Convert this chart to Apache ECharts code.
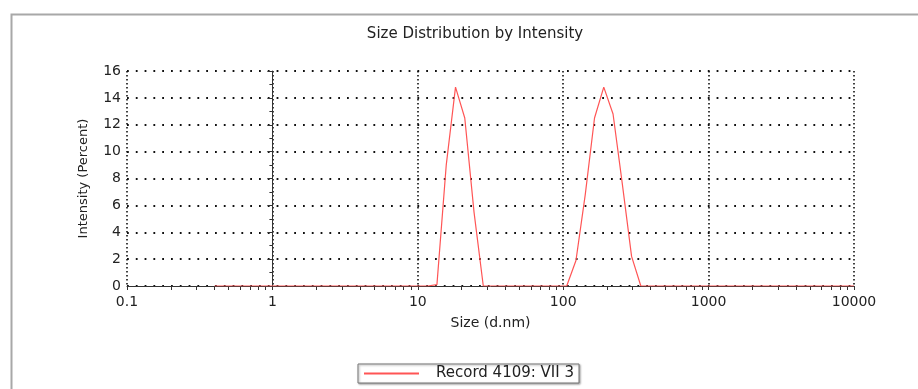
<!DOCTYPE html>
<html>
<head>
<meta charset="utf-8">
<script src="https://cdn.jsdelivr.net/npm/echarts@6/dist/echarts.min.js"></script>
<style>
  html, body { margin: 0; padding: 0; background: #fff; }
  #chart { width: 918px; height: 389px; }
</style>
</head>
<body>
<div id="chart"></div>
<script>
// size classes (d.nm), log spaced 0.4 .. 10000
const sizes = [
  0.4, 0.4632, 0.5365, 0.6213, 0.7195, 0.8332, 0.9649, 1.117, 1.294, 1.499,
  1.736, 2.010, 2.328, 2.696, 3.122, 3.615, 4.187, 4.849, 5.615, 6.503,
  7.531, 8.721, 10.10, 11.70, 13.54, 15.69, 18.17, 21.04, 24.36, 28.21,
  32.67, 37.84, 43.82, 50.75, 58.77, 68.06, 78.82, 91.28, 105.7, 122.4,
  141.8, 164.2, 190.1, 220.2, 255.0, 295.3, 342.0, 396.1, 458.7, 531.2,
  615.1, 712.4, 825.0, 955.4, 1106, 1281, 1484, 1718, 1990, 2305,
  2669, 3091, 3580, 4145, 4801, 5560, 6439, 7456, 8635, 10000
];
// intensity (percent) per size class
const intensity = [
  0, 0, 0, 0, 0, 0, 0, 0, 0, 0,
  0, 0, 0, 0, 0, 0, 0, 0, 0, 0,
  0, 0, 0, 0, 0.1, 9.0, 14.8, 12.5, 5.5, 0,
  0, 0, 0, 0, 0, 0, 0, 0, 0, 1.9,
  6.8, 12.5, 14.8, 12.8, 7.6, 2.2, 0, 0, 0, 0,
  0, 0, 0, 0, 0, 0, 0, 0, 0, 0,
  0, 0, 0, 0, 0, 0, 0, 0, 0, 0
];
const decades = [0.1, 1, 10, 100, 1000, 10000];
const minorMultipliers = [2, 3, 4, 5, 6, 7, 8, 9];
const seriesName = 'Record 4109: VII 3';

const font = 'DejaVu Sans';
const ink = '#222';

const lg = v => Math.log10(v);
// minor ticks at 2..9 of every decade (drawn on a second, label-less axis)
const minorTicks = [];
decades.slice(0, -1).forEach(d => {
  minorMultipliers.forEach(m => minorTicks.push(lg(d * m)));
});

const chart = echarts.init(document.getElementById('chart'));
chart.setOption({
  animation: false,
  backgroundColor: '#fff',
  graphic: [{
    type: 'rect',
    left: 9, top: 12,
    shape: { width: 1000, height: 500 },
    style: { fill: 'none', stroke: '#a8a8a8', lineWidth: 2 },
    silent: true
  }],
  title: {
    text: 'Size Distribution by Intensity',
    left: 470, top: 22, textAlign: 'center',
    textStyle: { fontFamily: font, fontSize: 15, fontWeight: 'normal', color: ink }
  },
  legend: {
    left: 358, top: 364,
    padding: [2, 5, 2, 5],
    itemWidth: 55, itemHeight: 12,
    itemStyle: { opacity: 0 },
    borderColor: '#777', borderWidth: 1,
    shadowColor: 'rgba(0,0,0,0.35)', shadowBlur: 2, shadowOffsetX: 1, shadowOffsetY: 1,
    backgroundColor: '#fff',
    textStyle: { fontFamily: font, fontSize: 15, color: ink, padding: [0, 0, 0, 12] },
    data: [seriesName]
  },
  grid: { left: 127, right: 64, top: 71, bottom: 103 },
  xAxis: [{
    type: 'value',
    min: -1, max: 4, interval: 1,
    name: 'Size (d.nm)',
    nameLocation: 'middle', nameGap: 30,
    nameTextStyle: { fontFamily: font, fontSize: 14, color: ink },
    axisLine: { lineStyle: { color: '#333', width: 1 } },
    axisTick: { show: true, length: 4, lineStyle: { color: '#333' } },
    axisLabel: {
      fontFamily: font, fontSize: 14, color: ink, margin: 9,
      formatter: v => String(decades[Math.round(v) + 1])
    },
    splitLine: { show: true, lineStyle: { color: '#111', width: 1.6, type: [1.6, 2.4] } }
  }, {
    type: 'value',
    position: 'bottom', offset: 0,
    min: -1, max: 4,
    axisLine: { show: false },
    axisTick: { show: true, length: 4, customValues: minorTicks, lineStyle: { color: '#333' } },
    axisLabel: { show: false },
    splitLine: { show: false }
  }],
  yAxis: {
    type: 'value',
    min: 0, max: 16, interval: 2,
    name: 'Intensity (Percent)',
    nameLocation: 'middle', nameGap: 37, nameRotate: 90,
    nameTextStyle: { fontFamily: font, fontSize: 13, color: ink },
    axisLine: { show: true, lineStyle: { color: '#333', width: 1 } },
    axisTick: { show: true, length: 5, lineStyle: { color: '#333' } },
    minorTick: { show: true, splitNumber: 2, length: 3, lineStyle: { color: '#333' } },
    axisLabel: { fontFamily: font, fontSize: 14, color: ink, margin: 6 },
    splitLine: { show: true, lineStyle: { color: '#111', width: 1.8, type: [1.8, 7] } }
  },
  series: [{
    name: seriesName,
    type: 'line',
    xAxisIndex: 0,
    symbol: 'none',
    lineStyle: { color: '#ff5555', width: 1.2 },
    itemStyle: { color: '#ff5555' },
    data: sizes.map((s, i) => [lg(s), intensity[i]])
  }]
});
</script>
</body>
</html>
